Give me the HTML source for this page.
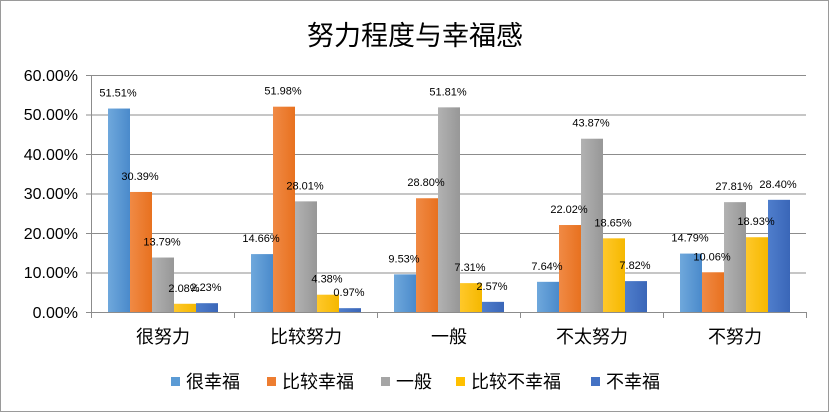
<!DOCTYPE html>
<html><head><meta charset="utf-8"><style>
body{margin:0;background:#fff}
svg{display:block}
text{font-family:"Liberation Sans","Noto Sans CJK SC",sans-serif}
</style></head><body>
<svg width="829" height="412" viewBox="0 0 829 412" xmlns="http://www.w3.org/2000/svg">
<defs>
<linearGradient id="g1" x1="0" x2="1"><stop offset="0" stop-color="#6FA8DC"/><stop offset="1" stop-color="#4A8ACB"/></linearGradient>
<linearGradient id="g2" x1="0" x2="1"><stop offset="0" stop-color="#F08A45"/><stop offset="1" stop-color="#E8711F"/></linearGradient>
<linearGradient id="g3" x1="0" x2="1"><stop offset="0" stop-color="#B2B2B2"/><stop offset="1" stop-color="#979797"/></linearGradient>
<linearGradient id="g4" x1="0" x2="1"><stop offset="0" stop-color="#FFC82A"/><stop offset="1" stop-color="#F5B800"/></linearGradient>
<linearGradient id="g5" x1="0" x2="1"><stop offset="0" stop-color="#4F7ECC"/><stop offset="1" stop-color="#3A66B8"/></linearGradient>
</defs>
<rect x="0.5" y="0.5" width="828" height="411" fill="#fff" stroke="#9a9a9a"/>
<text x="415" y="45" font-size="27" text-anchor="middle" font-family="Liberation Serif,'Noto Serif CJK SC',serif" fill="#000">努力程度与幸福感</text>
<g stroke="#8c8c8c" stroke-width="1">
<line x1="86" y1="75.5" x2="806" y2="75.5"/>
<line x1="86" y1="115" x2="806" y2="115"/>
<line x1="86" y1="154.5" x2="806" y2="154.5"/>
<line x1="86" y1="194" x2="806" y2="194"/>
<line x1="86" y1="233.5" x2="806" y2="233.5"/>
<line x1="86" y1="273" x2="806" y2="273"/>
<line x1="86" y1="312.5" x2="806" y2="312.5"/>
<line x1="91.5" y1="75" x2="91.5" y2="318"/>
<line x1="234.5" y1="312" x2="234.5" y2="318"/>
<line x1="377.5" y1="312" x2="377.5" y2="318"/>
<line x1="520.5" y1="312" x2="520.5" y2="318"/>
<line x1="663.5" y1="312" x2="663.5" y2="318"/>
<line x1="806.5" y1="312" x2="806.5" y2="318"/>
</g>
<g font-size="16" text-anchor="end" fill="#000">
<text x="78" y="81">60.00%</text>
<text x="78" y="120">50.00%</text>
<text x="78" y="160">40.00%</text>
<text x="78" y="199">30.00%</text>
<text x="78" y="239">20.00%</text>
<text x="78" y="278">10.00%</text>
<text x="78" y="318">0.00%</text>
</g>
<g font-size="18" text-anchor="middle" fill="#000">
<text x="163" y="343">很努力</text>
<text x="306" y="343">比较努力</text>
<text x="449" y="343">一般</text>
<text x="592" y="343">不太努力</text>
<text x="735" y="343">不努力</text>
</g>
<g id="bars"></g>
<g id="labels" font-size="11" text-anchor="middle" fill="#000"></g>
<g font-size="18" fill="#000">
<rect x="171" y="377" width="9" height="9" fill="#5B9BD5"/><text x="186" y="388">很幸福</text>
<rect x="267" y="377" width="9" height="9" fill="#ED7D31"/><text x="282" y="388">比较幸福</text>
<rect x="381" y="377" width="9" height="9" fill="#A5A5A5"/><text x="396" y="388">一般</text>
<rect x="456" y="377" width="9" height="9" fill="#FFC000"/><text x="471" y="388">比较不幸福</text>
<rect x="591" y="377" width="9" height="9" fill="#4472C4"/><text x="606" y="388">不幸福</text>
</g>
<script>
var d=[[51.51,30.39,13.79,2.08,2.23],[14.66,51.98,28.01,4.38,0.97],[9.53,28.80,51.81,7.31,2.57],[7.64,22.02,43.87,18.65,7.82],[14.79,10.06,27.81,18.93,28.40]];
var b=document.getElementById('bars'),l=document.getElementById('labels'),ns='http://www.w3.org/2000/svg';
for(var c=0;c<5;c++)for(var s=0;s<5;s++){var v=d[c][s],h=v*3.95,x=91.5+c*143+16.5+s*22,y=312-h;
var r=document.createElementNS(ns,'rect');r.setAttribute('x',x);r.setAttribute('y',y);r.setAttribute('width',22);r.setAttribute('height',h);r.setAttribute('fill','url(#g'+(s+1)+')');b.appendChild(r);
var t=document.createElementNS(ns,'text');t.setAttribute('x',x+10);t.setAttribute('y',y-12);t.textContent=v.toFixed(2)+'%';l.appendChild(t);}
</script>
</svg>
</body></html>
